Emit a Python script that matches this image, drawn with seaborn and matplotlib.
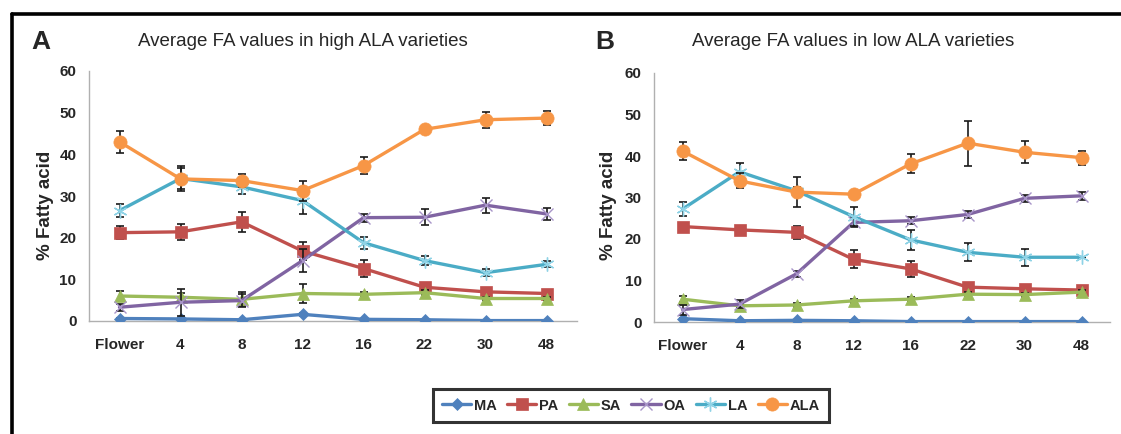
import matplotlib
matplotlib.use("Agg")
import matplotlib.pyplot as plt
from matplotlib.lines import Line2D
import seaborn as sns
import pandas as pd

# Sampling stages (days after flowering)
stages = ["Flower", "4", "8", "12", "16", "22", "30", "48"]
acids = ["MA", "PA", "SA", "OA", "LA", "ALA"]

# High ALA varieties: mean % fatty acid
high_ma = [0.6, 0.5, 0.3, 1.6, 0.4, 0.3, 0.1, 0.1]
high_pa = [21.2, 21.4, 23.8, 16.8, 12.6, 8.1, 7.0, 6.6]
high_sa = [6.0, 5.7, 5.2, 6.6, 6.4, 6.8, 5.4, 5.4]
high_oa = [3.3, 4.5, 4.9, 14.5, 24.8, 24.9, 27.8, 25.7]
high_la = [26.5, 34.2, 32.2, 28.9, 18.8, 14.5, 11.6, 13.6]
high_ala = [43.0, 34.1, 33.7, 31.3, 37.3, 46.0, 48.3, 48.7]

# High ALA varieties: error (+/-)
high_ma_err = [0.2, 0.2, 0.1, 0.3, 0.1, 0.1, 0.1, 0.1]
high_pa_err = [1.5, 2.0, 2.4, 2.1, 2.0, 0.5, 0.5, 0.5]
high_sa_err = [1.1, 1.0, 1.7, 2.2, 0.5, 0.6, 0.4, 0.4]
high_oa_err = [0.8, 3.2, 1.5, 2.8, 1.0, 1.9, 1.8, 1.4]
high_la_err = [1.6, 3.0, 1.7, 3.2, 1.4, 1.1, 0.8, 0.7]
high_ala_err = [2.7, 2.5, 1.5, 2.4, 2.0, 0.8, 1.9, 1.6]

# Low ALA varieties: mean % fatty acid
low_ma = [0.8, 0.3, 0.4, 0.3, 0.1, 0.1, 0.1, 0.1]
low_pa = [23.0, 22.2, 21.6, 15.1, 12.8, 8.4, 8.0, 7.7]
low_sa = [5.5, 3.9, 4.1, 5.1, 5.5, 6.7, 6.6, 7.2]
low_oa = [3.0, 4.3, 11.6, 24.0, 24.4, 25.9, 29.8, 30.4]
low_la = [27.2, 36.2, 31.6, 25.4, 19.8, 16.8, 15.6, 15.6]
low_ala = [41.2, 34.0, 31.3, 30.8, 38.1, 43.1, 40.9, 39.6]

# Low ALA varieties: error (+/-)
low_ma_err = [0.2, 0.1, 0.1, 0.1, 0.1, 0.1, 0.1, 0.1]
low_pa_err = [0.5, 0.5, 1.6, 2.2, 2.0, 0.5, 0.4, 0.4]
low_sa_err = [0.8, 0.5, 0.5, 0.5, 0.5, 0.5, 0.5, 0.5]
low_oa_err = [1.2, 1.0, 0.8, 1.0, 0.9, 0.9, 0.9, 0.9]
low_la_err = [1.7, 2.0, 1.0, 2.2, 2.4, 2.2, 2.0, 0.1]
low_ala_err = [2.2, 1.8, 3.6, 0.5, 2.3, 5.4, 2.6, 1.7]

high_vals = dict(zip(acids, [high_ma, high_pa, high_sa, high_oa, high_la, high_ala]))
high_errs = dict(zip(acids, [high_ma_err, high_pa_err, high_sa_err, high_oa_err, high_la_err, high_ala_err]))
low_vals = dict(zip(acids, [low_ma, low_pa, low_sa, low_oa, low_la, low_ala]))
low_errs = dict(zip(acids, [low_ma_err, low_pa_err, low_sa_err, low_oa_err, low_la_err, low_ala_err]))

colors = {
    "MA": "#4F81BD",
    "PA": "#C0504D",
    "SA": "#9BBB59",
    "OA": "#8064A2",
    "LA": "#4BACC6",
    "ALA": "#F79646",
}
marker_style = {
    "MA": dict(marker="D", markersize=6.5, mec="#4F81BD", mew=0.5),
    "PA": dict(marker="s", markersize=8.5, mec="#C0504D", mew=0.5),
    "SA": dict(marker="^", markersize=9, mec="#9BBB59", mew=0.5),
    "OA": dict(marker="x", markersize=8, mec="#A895C8", mew=1.0),
    "LA": dict(marker=(6, 2, 0), markersize=10, mec="#8FD3E6", mew=1.0),
    "ALA": dict(marker="o", markersize=9.5, mec="#F79646", mew=0.5),
}

sns.set_style("white")
plt.rcParams["font.family"] = ["Liberation Sans", "DejaVu Sans"]

W, H = 1121, 434
fig = plt.figure(figsize=(W / 100, H / 100), dpi=100)

ax_high = fig.add_axes([89 / W, 113 / H, 488 / W, 250 / H])
ax_low = fig.add_axes([654 / W, 112 / H, 456 / W, 249 / H])


def draw_panel(ax, vals, errs):
    for i, acid in enumerate(acids):
        z = 3 + i * 0.1
        df = pd.DataFrame({"stage": stages, "value": vals[acid]})
        ax.errorbar(stages, vals[acid], yerr=errs[acid], fmt="none",
                    ecolor="#1a1a1a", elinewidth=1.2, capsize=2.8,
                    capthick=1.2, zorder=z - 0.05)
        sns.lineplot(data=df, x="stage", y="value", ax=ax, sort=False,
                     color=colors[acid], linewidth=2.4, zorder=z,
                     legend=False, **marker_style[acid])
    ax.set_xlim(-0.5, 7.5)
    ax.set_ylim(0, 60)
    ax.set_yticks(range(0, 61, 10))
    ax.set_xlabel("")
    ax.set_ylabel("% Fatty acid", fontsize=13.5, fontweight="bold")
    for side in ("top", "right"):
        ax.spines[side].set_visible(False)
    for side in ("left", "bottom"):
        ax.spines[side].set_color("#B0B0B0")
        ax.spines[side].set_linewidth(1.0)
    ax.tick_params(axis="both", length=0, labelsize=11)
    ax.tick_params(axis="y", pad=9)
    ax.tick_params(axis="x", pad=12)
    for lab in ax.get_xticklabels() + ax.get_yticklabels():
        lab.set_fontweight("bold")
    ax.grid(False)


draw_panel(ax_high, high_vals, high_errs)
draw_panel(ax_low, low_vals, low_errs)

# y-label placement in pixel terms, relative to each axes box
ax_high.yaxis.set_label_coords((54 - 89) / 488, (321 - 205) / 250)
ax_low.yaxis.set_label_coords((617 - 654) / 456, (322 - 205) / 249)

# Panel letters and titles
fig.text(41 / W, 1 - 42 / H, "A", fontsize=19, fontweight="bold", ha="center", va="center")
fig.text(303 / W, 1 - 41 / H, "Average FA values in high ALA varieties",
         fontsize=13.5, ha="center", va="center")
fig.text(605 / W, 1 - 42 / H, "B", fontsize=19, fontweight="bold", ha="center", va="center")
fig.text(853 / W, 1 - 41 / H, "Average FA values in low ALA varieties",
         fontsize=13.5, ha="center", va="center")

# Shared legend
handles = [
    Line2D([], [], color=colors[a], linewidth=2.4, **marker_style[a]) for a in acids
]
leg = fig.legend(handles, acids, loc="center", bbox_to_anchor=(631 / W, 1 - 405.5 / H),
                 ncol=6, frameon=True, fancybox=False, edgecolor="black",
                 prop={"weight": "bold", "size": 10.5}, handlelength=2.0,
                 handletextpad=0.2, columnspacing=0.7, borderpad=0.65)
leg.get_frame().set_linewidth(2.2)

# Outer frame (top and left edges)
fig.add_artist(Line2D([12 / W, 1], [1 - 14 / H, 1 - 14 / H], transform=fig.transFigure,
                      color="black", linewidth=2.6))
fig.add_artist(Line2D([12 / W, 12 / W], [0, 1 - 14 / H], transform=fig.transFigure,
                      color="black", linewidth=2.6))

fig.savefig("out.png", dpi=100)
